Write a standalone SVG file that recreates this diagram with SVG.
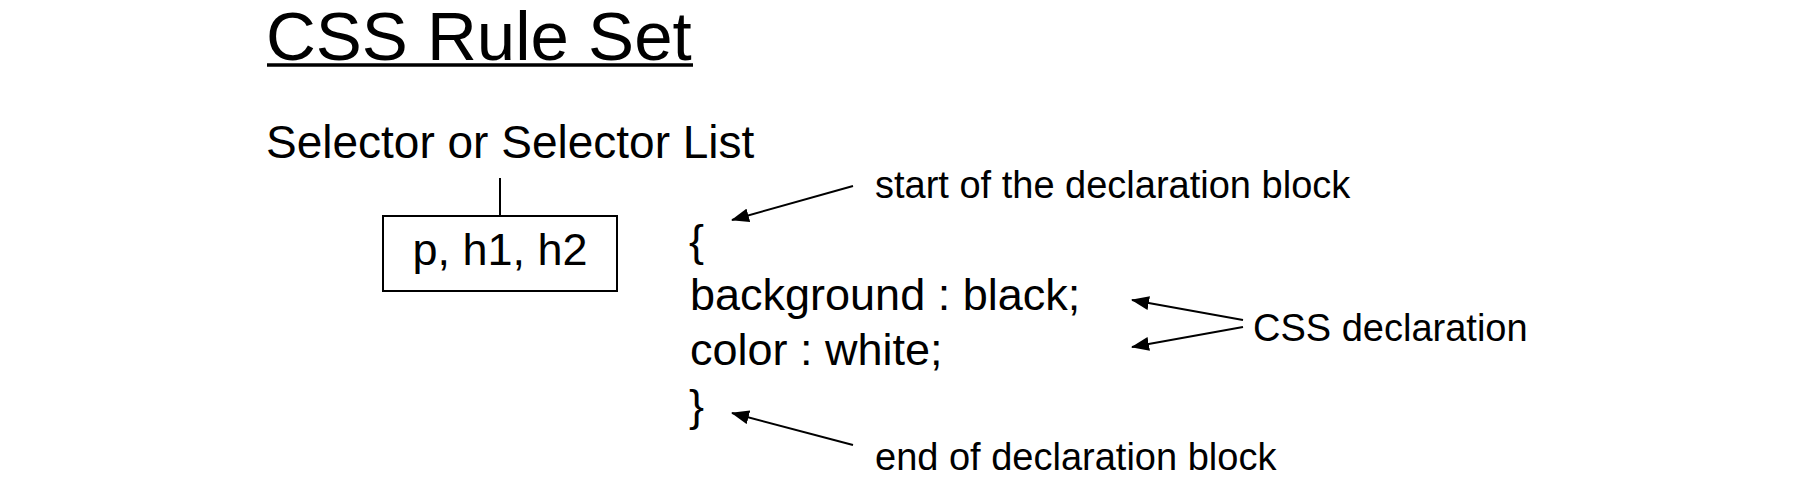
<svg xmlns="http://www.w3.org/2000/svg" width="1800" height="483" viewBox="0 0 1800 483">
<style>
text{font-family:"Liberation Sans",Arial,sans-serif;fill:#000}
.code{font-size:45px}
.note{font-size:38px}
.conn{stroke:#000;stroke-width:2;fill:none}
</style>
<defs>
<marker id="ah" viewBox="0 0 18 14" refX="17" refY="7" markerWidth="18" markerHeight="14" markerUnits="userSpaceOnUse" orient="auto">
<path d="M0,0 L18,7 L0,14 Z" fill="#000"/>
</marker>
</defs>
<rect width="1800" height="483" fill="#fff"/>
<g id="title">
<text x="266" y="60" font-size="69">CSS Rule Set</text>
<line x1="267" y1="65" x2="693" y2="65" stroke="#000" stroke-width="3.5"/>
</g>
<g id="selector-label">
<text x="266" y="158" font-size="46">Selector or Selector List</text>
</g>
<g id="selector-box">
<rect x="383" y="216" width="234" height="75" fill="#fff" stroke="#000" stroke-width="2"/>
<text x="500" y="265" font-size="45" text-anchor="middle">p, h1, h2</text>
</g>
<g id="declaration-block">
<text class="code" x="689" y="256">{</text>
<text class="code" x="690" y="310">background : black;</text>
<text class="code" x="690" y="365">color : white;</text>
<text class="code" x="689" y="421">}</text>
</g>
<g id="label-start">
<text class="note" x="875" y="198">start of the declaration block</text>
</g>
<g id="label-css-declaration">
<text class="note" x="1253" y="341">CSS declaration</text>
</g>
<g id="label-end">
<text class="note" x="875" y="470">end of declaration block</text>
</g>
<g id="connectors">
<line class="conn" x1="500" y1="178" x2="500" y2="216"/>
<line class="conn" x1="853" y1="186" x2="732" y2="220" marker-end="url(#ah)"/>
<line class="conn" x1="1243" y1="320" x2="1132" y2="300" marker-end="url(#ah)"/>
<line class="conn" x1="1243" y1="327" x2="1132" y2="347" marker-end="url(#ah)"/>
<line class="conn" x1="853" y1="445" x2="732" y2="413" marker-end="url(#ah)"/>
</g>
</svg>
